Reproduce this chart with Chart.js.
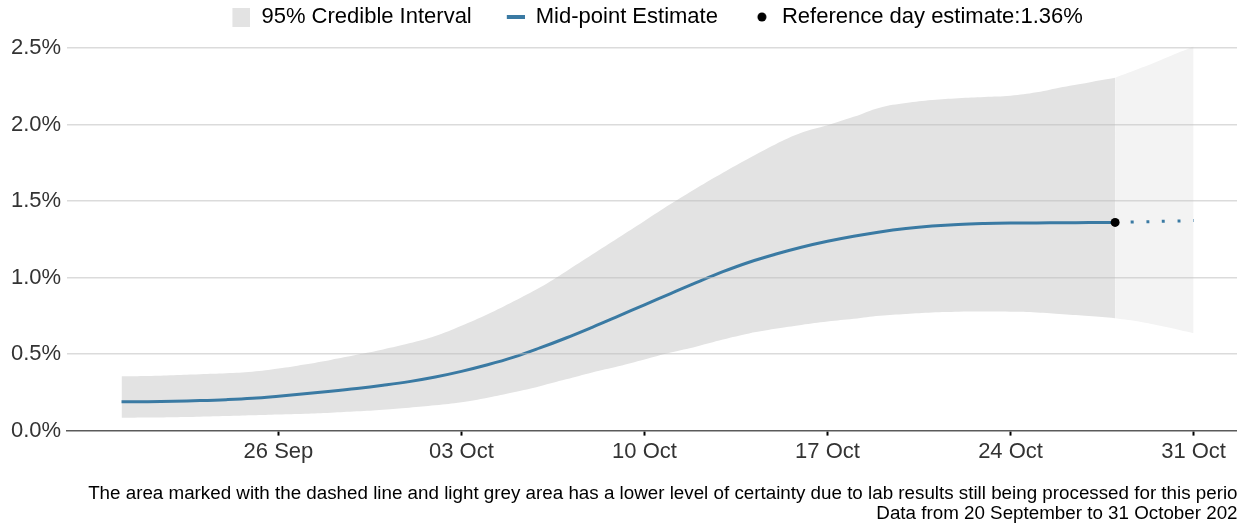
<!DOCTYPE html>
<html lang="en">
<head>
    <meta charset="UTF-8">
    <title>Positivity estimate</title>
    <script src="https://cdn.jsdelivr.net/npm/chart.js"></script>
    <style>
        html, body { margin: 0; padding: 0; background: #fff; overflow: hidden; }
        #wrap { width: 1248px; height: 524px; position: relative; }
    </style>
</head>
<body>
    <div id="wrap"><canvas id="myChart"></canvas></div>
    <script>
        // days since 20 September
        const days = [0, 1, 2, 3, 4, 5, 6, 7, 8, 9, 10, 11, 12, 13, 14, 15, 16, 17, 18, 19,
            20, 21, 22, 23, 24, 25, 26, 27, 28, 29, 30, 31, 32, 33, 34, 35, 36, 37, 38];
        const midEstimate = [0.188, 0.189, 0.192, 0.196, 0.202, 0.211, 0.225, 0.241, 0.257, 0.275,
            0.296, 0.320, 0.350, 0.387, 0.430, 0.480, 0.540, 0.605, 0.675, 0.748,
            0.822, 0.895, 0.968, 1.038, 1.10, 1.152, 1.198, 1.237, 1.27, 1.298,
            1.32, 1.336, 1.347, 1.353, 1.356, 1.357, 1.358, 1.359, 1.36];
        const upperBound = [0.355, 0.357, 0.362, 0.368, 0.374, 0.384, 0.405, 0.432, 0.462, 0.495,
            0.53, 0.57, 0.618, 0.685, 0.76, 0.845, 0.935, 1.04, 1.15, 1.26,
            1.37, 1.48, 1.585, 1.685, 1.78, 1.87, 1.946, 1.995, 2.05, 2.11,
            2.14, 2.16, 2.172, 2.18, 2.188, 2.21, 2.245, 2.275, 2.305];
        const lowerBound = [0.084, 0.086, 0.088, 0.091, 0.095, 0.10, 0.105, 0.11, 0.117, 0.126,
            0.137, 0.15, 0.165, 0.185, 0.215, 0.25, 0.29, 0.335, 0.38, 0.42,
            0.465, 0.51, 0.55, 0.595, 0.635, 0.665, 0.69, 0.712, 0.73, 0.75,
            0.762, 0.772, 0.777, 0.778, 0.777, 0.772, 0.76, 0.748, 0.734];

        // less certain period (lab results still being processed)
        const projDays = [38, 39, 40, 41];
        const projMid = [1.36, 1.364, 1.368, 1.372];
        const projUpper = [2.305, 2.37, 2.44, 2.51];
        const projLower = [0.734, 0.71, 0.675, 0.636];

        const refDay = 38;
        const refValue = 1.36;

        const tickDays = [6, 13, 20, 27, 34, 41];
        const tickLabels = ['26 Sep', '03 Oct', '10 Oct', '17 Oct', '24 Oct', '31 Oct'];
        const yTicks = [0, 0.5, 1, 1.5, 2, 2.5];

        // trailing spaces on the last label nudge the centred legend row to the left
        const legendLabels = ['95% Credible Interval', 'Mid-point Estimate', 'Reference day estimate:1.36%    '];
        const footerLines = [
            'The area marked with the dashed line and light grey area has a lower level of certainty due to lab results still being processed for this period',
            'Data from 20 September to 31 October 2020'
        ];

        const blue = '#3a7aa3';
        const bandGrey = '#e3e3e3';
        const lightGrey = '#f3f3f3';

        function pts(xs, ys) {
            return xs.map((x, i) => ({ x: x, y: ys[i] }));
        }

        // small legend markers, blank space on the left gives the gap between items
        function marker(kind) {
            const c = document.createElement('canvas');
            c.width = 47; c.height = 22;
            const g = c.getContext('2d');
            if (kind === 'box') {
                g.fillStyle = bandGrey;
                g.fillRect(29, 2, 19, 19);
            } else if (kind === 'line') {
                g.fillStyle = blue;
                g.fillRect(29, 9, 18, 4);
            } else {
                g.fillStyle = '#000';
                g.beginPath();
                g.arc(38, 11, 4.5, 0, Math.PI * 2);
                g.fill();
            }
            return c;
        }
        const markers = [marker('box'), marker('line'), marker('dot')];

        Chart.defaults.font.family = '"Liberation Sans", Arial, sans-serif';

        const line = { pointRadius: 0, tension: 0.4 };

        const ctx = document.getElementById('myChart').getContext('2d');
        const myChart = new Chart(ctx, {
            type: 'line',
            data: {
                datasets: [
                    Object.assign({ label: 'lower', data: pts(days, lowerBound), borderWidth: 0, fill: false, order: 5 }, line),
                    Object.assign({ label: 'upper', data: pts(days, upperBound), borderWidth: 0, fill: '-1', backgroundColor: bandGrey, order: 5 }, line),
                    Object.assign({ label: 'lowerProj', data: pts(projDays, projLower), borderWidth: 0, fill: false, order: 5 }, line),
                    Object.assign({ label: 'upperProj', data: pts(projDays, projUpper), borderWidth: 0, fill: '-1', backgroundColor: lightGrey, order: 5 }, line),
                    Object.assign({ label: 'mid', data: pts(days, midEstimate), borderColor: blue, borderWidth: 3, fill: false, order: 1 }, line),
                    Object.assign({ label: 'midProj', data: pts(projDays, projMid), borderColor: blue, borderWidth: 3,
                        borderDash: [3, 12.6], borderCapStyle: 'butt', fill: false, order: 1 }, line),
                    { type: 'scatter', label: 'ref', data: [{ x: refDay, y: refValue }], order: 0,
                        pointRadius: 4.5, backgroundColor: '#000', borderColor: '#000', borderWidth: 0 }
                ]
            },
            options: {
                responsive: true,
                maintainAspectRatio: false,
                animation: false,
                layout: { padding: { left: 5, top: 0, right: 0, bottom: 0 } },
                plugins: {
                    tooltip: { enabled: false },
                    legend: {
                        position: 'top',
                        fullSize: false,
                        labels: {
                            usePointStyle: true,
                            pointStyleWidth: 47,
                            boxHeight: 18,
                            padding: 6,
                            color: '#1a1a1a',
                            font: { size: 22 },
                            generateLabels: function() {
                                return legendLabels.map((t, i) => ({
                                    text: t, pointStyle: markers[i], fillStyle: '#000',
                                    strokeStyle: '#000', lineWidth: 0, hidden: false
                                }));
                            }
                        }
                    },
                    title: {
                        display: true,
                        position: 'bottom',
                        align: 'end',
                        text: footerLines,
                        color: '#000',
                        font: { size: 18.8, weight: 'normal', lineHeight: '20px' },
                        padding: { top: 16, bottom: 0 }
                    }
                },
                scales: {
                    x: {
                        type: 'linear',
                        min: -2.08,
                        max: 42.91,
                        afterBuildTicks: function(axis) {
                            axis.ticks = tickDays.map(v => ({ value: v }));
                        },
                        ticks: {
                            autoSkip: false,
                            maxRotation: 0,
                            padding: 3,
                            color: '#333',
                            font: { size: 22 },
                            callback: function(value) {
                                return tickLabels[tickDays.indexOf(value)];
                            }
                        },
                        grid: { drawOnChartArea: false, drawTicks: true, tickLength: 5, tickColor: '#000', tickWidth: 2 },
                        border: { color: '#5a5a5a', width: 1.5 }
                    },
                    y: {
                        min: 0,
                        max: 2.565,
                        afterBuildTicks: function(axis) {
                            axis.ticks = yTicks.map(v => ({ value: v }));
                        },
                        ticks: {
                            padding: 6,
                            color: '#333',
                            font: { size: 22 },
                            callback: function(value) {
                                return value.toFixed(1) + '%';
                            }
                        },
                        grid: {
                            z: 1,
                            drawTicks: false,
                            lineWidth: 1.5,
                            color: function(c) {
                                return c.tick && c.tick.value === 0 ? 'rgba(0,0,0,0)' : 'rgba(190,190,190,0.55)';
                            }
                        },
                        border: { display: false }
                    }
                }
            }
        });
    </script>
</body>
</html>
